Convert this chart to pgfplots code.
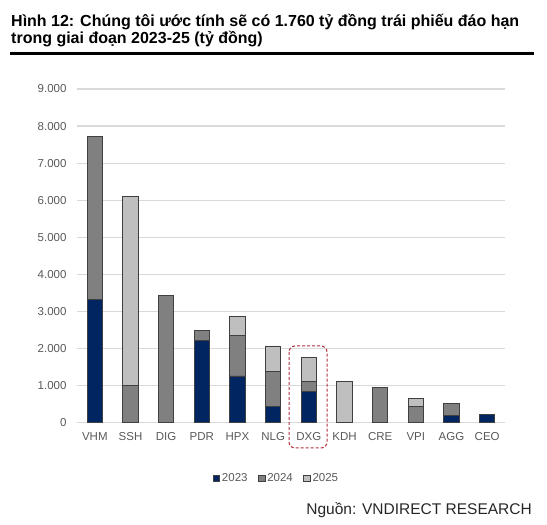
\documentclass[border=0pt]{standalone}
\usepackage{pgfplots}
\pgfplotsset{compat=1.18}
\usepackage{fontspec}
\setmainfont{Liberation Sans}
\definecolor{c23}{RGB}{0,37,96}
\definecolor{c24}{RGB}{128,128,128}
\definecolor{c25}{RGB}{191,191,191}
\definecolor{edge}{RGB}{64,64,64}
\definecolor{gridc}{RGB}{217,217,217}
\definecolor{tickc}{RGB}{89,89,89}
\definecolor{redd}{RGB}{176,48,64}
\begin{document}
\begin{tikzpicture}
\path[use as bounding box] (0pt,0pt) rectangle (547pt,525pt);
\node[anchor=base west, inner sep=0pt, font=\fontsize{16}{19}\selectfont\bfseries] at (11pt,498.3pt) {Hình 12: Chúng tôi ước tính sẽ có 1.760 tỷ đồng trái phiếu đáo hạn};
\node[anchor=base west, inner sep=0pt, font=\fontsize{16}{19}\selectfont\bfseries] at (11pt,481.5pt) {trong giai đoạn 2023-25 (tỷ đồng)};
\draw[line width=2.5pt] (10pt,471.7pt) -- (534pt,471.7pt);
\begin{axis}[
  at={(77pt,102.3pt)}, anchor=south west,
  scale only axis, width=428pt, height=333.7pt,
  ybar stacked, bar width=0.43,
  xmin=-0.5, xmax=11.5, ymin=0, ymax=9000,
  xtick={0,...,11},
  xticklabels={VHM,SSH,DIG,PDR,HPX,NLG,DXG,KDH,CRE,VPI,AGG,CEO},
  ytick={0,1000,...,9000},
  /pgf/number format/.cd, 1000 sep={.}, assume math mode=true, /pgfplots/.cd,
  scaled y ticks=false,
  tick label style={font=\fontsize{11.5}{13}\selectfont, color=tickc},
  yticklabel style={xshift=-7pt},
  xticklabel style={yshift=-6pt},
  major tick length=0pt,
  ymajorgrids, grid style={gridc, line width=1.2pt},
  axis x line=bottom, axis y line=left,
  x axis line style={-, gridc, line width=1.2pt},
  y axis line style={draw=none},
  every axis plot/.append style={draw=edge, line width=0.8pt},
  legend columns=3,
  legend style={at={(0.317,-0.166)}, anchor=west, draw=none, fill=none,
    font=\fontsize{11.5}{13}\selectfont, color=tickc,
    nodes={inner sep=0.6pt},
    /tikz/every even column/.append style={column sep=10pt},
    /tikz/every odd column/.append style={column sep=1.5pt},
    inner sep=0pt},
  legend image code/.code={\draw[#1, line width=0.6pt] (0pt,-3.2pt) rectangle (6.4pt,3.2pt);},
  clip=false,
]
\addplot[fill=c23] coordinates {(0,3330) (1,0) (2,0) (3,2210) (4,1260) (5,430) (6,850) (7,0) (8,0) (9,0) (10,200) (11,220)};
\addplot[fill=c24] coordinates {(0,4400) (1,1000) (2,3430) (3,290) (4,1100) (5,960) (6,270) (7,0) (8,950) (9,430) (10,330) (11,0)};
\addplot[fill=c25] coordinates {(0,0) (1,5090) (2,0) (3,0) (4,500) (5,680) (6,640) (7,1110) (8,0) (9,230) (10,0) (11,0)};
\legend{2023,2024,2025}
\end{axis}
\draw[redd, line width=1pt, dash pattern=on 3pt off 2pt, rounded corners=6pt] (289pt,179pt) rectangle (327pt,77pt);
\node[anchor=base east, inner sep=0pt, font=\fontsize{15.5}{18}\selectfont, color=black!85] at (532pt,10pt) {Nguồn: VNDIRECT RESEARCH};
\end{tikzpicture}
\end{document}
